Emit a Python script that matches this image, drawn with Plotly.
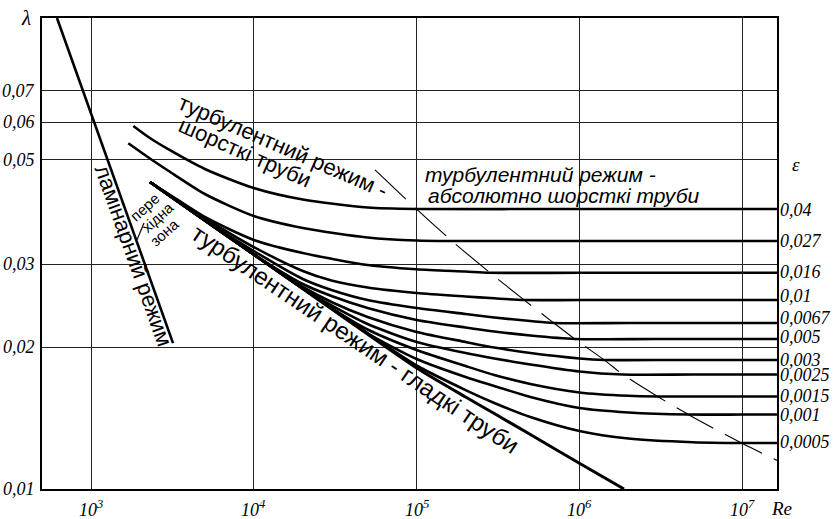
import numpy as np
import plotly.graph_objects as go

# Friction factor chart: hydraulic resistance coefficient λ versus Reynolds number Re
RE_MIN, RE_MAX = 500.0, 1.636e7
LAM_MIN, LAM_MAX = 0.01, 0.1

x_tick_vals = [1e3, 1e4, 1e5, 1e6, 1e7]
x_tick_text = ["10<sup>3</sup>", "10<sup>4</sup>", "10<sup>5</sup>", "10<sup>6</sup>", "10<sup>7</sup>"]
y_tick_vals = [0.01, 0.02, 0.03, 0.05, 0.06, 0.07]
y_tick_text = ["0,01", "0,02", "0,03", "0,05", "0,06", "0,07"]

# laminar regime
laminar_re = [618, 3190]
laminar_lam = [0.100, 0.0204]

# turbulent regime, hydraulically smooth pipes
smooth_re = [2300, 1e4, 1e5, 2e5, 3e5, 5e5, 1e6, 1.88e6]
smooth_lam = [0.04485, 0.03148, 0.01807, 0.01568, 0.01446, 0.01305, 0.01134, 0.0100]

# leader of the transition-zone caption
leader_re = [1917, 2116]
leader_lam = [0.0338, 0.0367]

# relative roughness curves
eps_04_re = [1819, 2300, 3000, 5000, 1e4, 2e4, 5e4, 1e5, 1e6, RE_MAX]
eps_04_lam = [0.0590, 0.05562, 0.05258, 0.04780, 0.04355, 0.04117, 0.03961, 0.03932, 0.03932, 0.03932]

eps_027_re = [1694, 2300, 3000, 5000, 1e4, 2e4, 5e4, 1e5, 1.65e5, 1e6, RE_MAX]
eps_027_lam = [0.05420, 0.05031, 0.04733, 0.04230, 0.03799, 0.03582, 0.03420, 0.03370, 0.03362, 0.03362, 0.03362]

eps_016_re = [2300, 3000, 5000, 1e4, 2e4, 5e4, 1e5, 2e5, 2.82e5, 1e6, RE_MAX]
eps_016_lam = [0.04485, 0.04230, 0.03781, 0.03379, 0.03170, 0.02989, 0.02927, 0.02895, 0.02878, 0.02878, 0.02878]

eps_01_re = [2300, 5000, 1e4, 2e4, 3e4, 5e4, 1e5, 2e5, 3e5, 4.57e5, 1e6, RE_MAX]
eps_01_lam = [0.04485, 0.03761, 0.03264, 0.02903, 0.02771, 0.02678, 0.02607, 0.02563, 0.02540, 0.02519, 0.02519, 0.02519]

eps_0067_re = [2300, 5000, 1e4, 2e4, 3e4, 5e4, 1e5, 2e5, 3e5, 5e5, 7e5, 2e6, RE_MAX]
eps_0067_lam = [0.04485, 0.03725, 0.03201, 0.02792, 0.02646, 0.02519, 0.02423, 0.02353, 0.02313, 0.02273, 0.02251, 0.02251, 0.02251]

eps_005_re = [2300, 1e4, 2e4, 3e4, 5e4, 1e5, 2e5, 3e5, 5e5, 9.4e5, 3e6, RE_MAX]
eps_005_lam = [0.04485, 0.03148, 0.02724, 0.02569, 0.02423, 0.02285, 0.02202, 0.02160, 0.02118, 0.02082, 0.02082, 0.02082]

eps_003_re = [2300, 1e4, 2e4, 3e4, 5e4, 1e5, 2e5, 3e5, 5e5, 1e6, 1.42e6, 4e6, RE_MAX]
eps_003_lam = [0.04485, 0.03148, 0.02685, 0.02495, 0.02318, 0.02154, 0.02052, 0.01997, 0.01944, 0.01893, 0.01879, 0.01879, 0.01879]

eps_0025_re = [2300, 1e4, 2e4, 3e4, 5e4, 1e5, 2e5, 3e5, 5e5, 1e6, 1.85e6, 5e6, RE_MAX]
eps_0025_lam = [0.04485, 0.03148, 0.02666, 0.02453, 0.02240, 0.02052, 0.01944, 0.01893, 0.01838, 0.01776, 0.01750, 0.01750, 0.01750]

eps_0015_re = [2300, 1e4, 2e4, 3e4, 5e4, 1e5, 2e5, 3e5, 5e5, 1e6, 2e6, 3.04e6, 8e6, RE_MAX]
eps_0015_lam = [0.04485, 0.03148, 0.02666, 0.02422, 0.02181, 0.01973, 0.01824, 0.01746, 0.01671, 0.01603, 0.01577, 0.01572, 0.01572, 0.01572]

eps_001_re = [2300, 1e4, 2e4, 3e4, 5e4, 1e5, 2e5, 3e5, 5e5, 1e6, 2e6, 4.65e6, 1e7, RE_MAX]
eps_001_lam = [0.04485, 0.03148, 0.02666, 0.02422, 0.02141, 0.01888, 0.01729, 0.01655, 0.01568, 0.01486, 0.01454, 0.01439, 0.01439, 0.01439]

eps_0005_re = [2300, 1e4, 2e4, 3e4, 5e4, 1e5, 2e5, 3e5, 5e5, 1e6, 2e6, 5e6, 1e7, RE_MAX]
eps_0005_lam = [0.04485, 0.03148, 0.02666, 0.02422, 0.02141, 0.01829, 0.01622, 0.01523, 0.01422, 0.01328, 0.01280, 0.01257, 0.01252, 0.01252]

eps_labels = ["0,04", "0,027", "0,016", "0,01", "0,0067", "0,005",
              "0,003", "0,0025", "0,0015", "0,001", "0,0005"]

# boundary of the fully rough (quadratic) zone
boundary_re = [5.55e4, 1.0e5, 1.65e5, 2.82e5, 4.57e5, 6.98e5, 9.4e5, 1.42e6, 1.85e6, 3.04e6, 4.65e6, 9.97e6, RE_MAX]
boundary_lam = [0.0476, 0.0393, 0.0336, 0.0288, 0.0252, 0.0225, 0.0208, 0.0188, 0.0175, 0.0157, 0.0144, 0.0125, 0.0115]

rough_curves = [
    (eps_04_re, eps_04_lam), (eps_027_re, eps_027_lam), (eps_016_re, eps_016_lam),
    (eps_01_re, eps_01_lam), (eps_0067_re, eps_0067_lam), (eps_005_re, eps_005_lam),
    (eps_003_re, eps_003_lam), (eps_0025_re, eps_0025_lam), (eps_0015_re, eps_0015_lam),
    (eps_001_re, eps_001_lam), (eps_0005_re, eps_0005_lam),
]
label_yshift = [-1, 0, 1, 4, 5, 2, 0, 0, 0, 0, 1]

SANS = "Liberation Sans"
SERIF = "Liberation Serif"
INK = "black"

fig = go.Figure()

fig.add_trace(go.Scatter(x=laminar_re, y=laminar_lam, mode="lines",
                         line=dict(color=INK, width=2.6), hoverinfo="skip"))
fig.add_trace(go.Scatter(x=leader_re, y=leader_lam, mode="lines",
                         line=dict(color=INK, width=1.2), hoverinfo="skip"))
fig.add_trace(go.Scatter(x=smooth_re, y=smooth_lam, mode="lines",
                         line=dict(color=INK, width=3.0, shape="spline", smoothing=0.5),
                         hoverinfo="skip"))
for re_vals, lam_vals in rough_curves:
    fig.add_trace(go.Scatter(x=re_vals, y=lam_vals, mode="lines",
                             line=dict(color=INK, width=2.6, shape="spline", smoothing=0.7),
                             hoverinfo="skip"))
fig.add_trace(go.Scatter(x=boundary_re, y=boundary_lam, mode="lines",
                         line=dict(color=INK, width=1.1, dash="42px,13px", shape="spline", smoothing=0.6),
                         hoverinfo="skip"))

PLOT_W, PLOT_H = 735, 471
XL0, XL1 = np.log10(RE_MIN), np.log10(RE_MAX)
YL0, YL1 = np.log10(LAM_MIN), np.log10(LAM_MAX)


def text_mask(xlog, ylog, angle_deg, half_len, half_h):
    """White band under a rotated caption that hides the grid but not the curves."""
    cx = (xlog - XL0) / (XL1 - XL0) * PLOT_W
    cy = (ylog - YL0) / (YL1 - YL0) * PLOT_H
    a = np.radians(angle_deg)
    ux, uy = np.cos(a), -np.sin(a)
    vx, vy = np.sin(a), np.cos(a)
    pts = [(cx + sl * half_len * ux + sh * half_h * vx,
            cy + sl * half_len * uy + sh * half_h * vy)
           for sl, sh in [(-1, -1), (1, -1), (1, 1), (-1, 1)]]
    path = "M " + " L ".join(f"{px / PLOT_W:.5f},{py / PLOT_H:.5f}" for px, py in pts) + " Z"
    return dict(type="path", path=path, xref="paper", yref="paper",
                fillcolor="white", line=dict(width=0), layer="between")


annotations = []
shapes = []


def caption(text, xlog, ylog, angle, size=22, italic=False, mask=None, xanchor="center"):
    annotations.append(dict(text=text, x=xlog, y=ylog, xref="x", yref="y", showarrow=False,
                            textangle=angle, xanchor=xanchor, yanchor="middle",
                            font=dict(family=SANS, size=size, color=INK,
                                      style="italic" if italic else "normal")))
    if mask is not None:
        shapes.append(text_mask(xlog, ylog, angle, *mask))


caption("турбулентний режим -", 4.1793, -1.2728, 23.5, mask=(110, 10))
caption("шорсткі труби", 3.9459, -1.2856, 23.8, mask=(70, 10))
caption("турбулентний режим - гладкі труби", 4.6277, -1.6826, 34.0, size=24, mask=(205, 11))
caption("ламінарний режим", 3.2604, -1.5047, 70.4, mask=(97, 9))
caption("пере", 3.3255, -1.4013, -42, size=15)
caption("хідна", 3.4054, -1.4225, -42, size=15)
caption("зона", 3.4484, -1.4544, -42, size=15)
caption("турбулентний режим -", 5.0393, -1.3333, 0, size=21, italic=True, xanchor="left")
caption("абсолютно шорсткі труби", 5.0577, -1.3779, 0, size=21, italic=True, xanchor="left")
shapes.append(dict(type="rect", xref="paper", yref="paper", x0=0.514, x1=0.898,
                   y0=0.601, y1=0.695, fillcolor="white", line=dict(width=0), layer="between"))

serif_it = dict(family=SERIF, size=18, color=INK, style="italic")

for v, t in zip(y_tick_vals, y_tick_text):
    annotations.append(dict(text=t, x=0, xref="paper", xanchor="right", xshift=-5,
                            y=np.log10(v), yref="y", yanchor="middle",
                            showarrow=False, font=serif_it))
for v, t in zip(x_tick_vals, x_tick_text):
    annotations.append(dict(text=t, x=np.log10(v), xref="x", xanchor="center",
                            y=0, yref="paper", yanchor="middle", yshift=-19,
                            showarrow=False, font=serif_it))
for (re_vals, lam_vals), t, dy in zip(rough_curves, eps_labels, label_yshift):
    annotations.append(dict(text=t, x=1, xref="paper", xanchor="left", xshift=1,
                            y=np.log10(lam_vals[-1]), yref="y", yanchor="middle", yshift=dy,
                            showarrow=False, font=serif_it))

annotations.append(dict(text="λ", x=0, xref="paper", xanchor="center", xshift=-16,
                        y=1, yref="paper", yanchor="middle", showarrow=False,
                        font=dict(family=SERIF, size=21, color=INK, style="italic")))
annotations.append(dict(text="ε", x=1, xref="paper", xanchor="center", xshift=19,
                        y=-1.31, yref="y", yanchor="middle", showarrow=False,
                        font=dict(family=SERIF, size=19, color=INK, style="italic")))
annotations.append(dict(text="Re", x=1, xref="paper", xanchor="center", xshift=4,
                        y=0, yref="paper", yanchor="middle", yshift=-19, showarrow=False,
                        font=dict(family=SERIF, size=19, color=INK, style="italic")))

fig.update_layout(
    width=833, height=519, autosize=False,
    margin=dict(l=42, r=56, t=18, b=30, pad=0),
    paper_bgcolor="white", plot_bgcolor="white",
    showlegend=False,
    annotations=annotations,
    shapes=shapes,
)
fig.update_xaxes(type="log", range=[XL0, XL1], tickvals=x_tick_vals, showticklabels=False,
                 ticks="", showgrid=True, gridcolor="#222", gridwidth=1,
                 showline=True, linecolor=INK, linewidth=1.5, mirror=True, zeroline=False)
fig.update_yaxes(type="log", range=[YL0, YL1], tickvals=y_tick_vals, showticklabels=False,
                 ticks="", showgrid=True, gridcolor="#222", gridwidth=1,
                 showline=True, linecolor=INK, linewidth=1.5, mirror=True, zeroline=False)

fig.write_html("out.html")
